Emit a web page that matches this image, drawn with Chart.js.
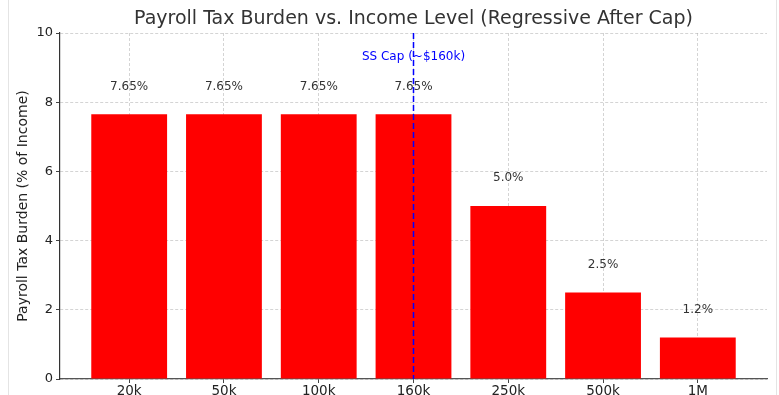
<!DOCTYPE html>
<html>
<head>
<meta charset="utf-8">
<script src="https://cdn.jsdelivr.net/npm/chart.js@4.4.1/dist/chart.umd.min.js"></script>
<style>
  html, body { margin: 0; padding: 0; background: #fff; }
  #wrap { width: 779px; height: 395px; position: relative; }
</style>
</head>
<body>
<div id="wrap"><canvas id="taxChart" width="779" height="395"></canvas></div>
<script>
// Chart data
const incomeLevels = ['20k', '50k', '100k', '160k', '250k', '500k', '1M'];
const taxBurden = [7.65, 7.65, 7.65, 7.65, 5.0, 2.5, 1.2];
const yTicks = [0, 2, 4, 6, 8, 10];
const capIndex = 3;
const capLabel = 'SS Cap (~$160k)';
const chartTitle = 'Payroll Tax Burden vs. Income Level (Regressive After Cap)';

const fmtPct = v => (Number.isInteger(v * 10) ? v.toFixed(1) : String(v)) + '%';

// page frame lines + white background
const framePlugin = {
    id: 'frame',
    beforeDraw(chart) {
        const c = chart.ctx;
        c.save();
        c.fillStyle = '#fff';
        c.fillRect(0, 0, chart.width, chart.height);
        c.strokeStyle = '#e4e4e4';
        c.lineWidth = 1;
        c.beginPath();
        c.moveTo(8.5, 0); c.lineTo(8.5, chart.height);
        c.moveTo(chart.width - 2.5, 0); c.lineTo(chart.width - 2.5, chart.height);
        c.stroke();
        c.restore();
    }
};

// title centred over the plot area, value labels and the SS cap marker
const annotatePlugin = {
    id: 'annotate',
    afterDraw(chart) {
        const c = chart.ctx;
        const xs = chart.scales.x, ys = chart.scales.y;
        const area = chart.chartArea;
        c.save();
        c.textAlign = 'center';
        c.textBaseline = 'middle';

        c.font = '19px "DejaVu Sans"';
        c.fillStyle = '#333';
        c.fillText(chartTitle, (area.left + area.right) / 2, 19);

        c.font = '12px "DejaVu Sans"';
        taxBurden.forEach((v, i) => {
            c.fillText(fmtPct(v), xs.getPixelForValue(i), ys.getPixelForValue(v + 0.8));
        });

        const cx = xs.getPixelForValue(capIndex);
        c.fillStyle = '#0000ff';
        c.fillText(capLabel, cx, ys.getPixelForValue(9.3));

        c.strokeStyle = '#0000ff';
        c.lineWidth = 1.5;
        c.setLineDash([6, 3]);
        c.beginPath();
        c.moveTo(cx, area.top);
        c.lineTo(cx, area.bottom);
        c.stroke();
        c.restore();
    }
};

Chart.defaults.font.family = '"DejaVu Sans", sans-serif';
Chart.defaults.color = '#333';

const gridStyle = {
    offset: false,
    color: 'rgba(170,170,170,0.5)',
    tickColor: '#444',
    tickBorderDash: [],
    tickLength: 4,
    tickWidth: 1
};

const ctx = document.getElementById('taxChart').getContext('2d');
const taxChart = new Chart(ctx, {
    type: 'bar',
    data: {
        datasets: [{
            data: taxBurden.map((v, i) => ({ x: i, y: v })),
            backgroundColor: '#ff0000',
            borderWidth: 0,
            barPercentage: 1,
            categoryPercentage: 0.8
        }]
    },
    options: {
        responsive: false,
        animation: false,
        devicePixelRatio: 1,
        layout: { padding: { left: 0, right: 12, top: 33, bottom: 0 } },
        plugins: {
            legend: { display: false },
            tooltip: { enabled: false },
            title: { display: false }
        },
        scales: {
            x: {
                type: 'linear',
                min: -0.73,
                max: 6.73,
                offset: false,
                z: 1,
                afterBuildTicks: s => { s.ticks = incomeLevels.map((_, i) => ({ value: i })); },
                afterFit: s => { s.height = 16; },
                ticks: {
                    callback: v => incomeLevels[v] ?? '',
                    font: { size: 13.5 },
                    color: '#222',
                    padding: 0,
                    maxRotation: 0,
                    autoSkip: false
                },
                grid: gridStyle,
                border: { color: '#555', width: 1.2, dash: [3, 2] }
            },
            y: {
                min: 0,
                max: 10,
                z: 1,
                afterBuildTicks: s => { s.ticks = yTicks.map(v => ({ value: v })); },
                afterFit: s => { s.width = 60; },
                ticks: {
                    font: { size: 13 },
                    color: '#222',
                    padding: 3
                },
                grid: gridStyle,
                border: { color: '#333', width: 1.2, dash: [3, 2] },
                title: {
                    display: true,
                    text: 'Payroll Tax Burden (% of Income)',
                    color: '#222',
                    font: { size: 14 },
                    padding: { top: 15, bottom: 0 }
                }
            }
        }
    },
    plugins: [framePlugin, annotatePlugin]
});
</script>
</body>
</html>
